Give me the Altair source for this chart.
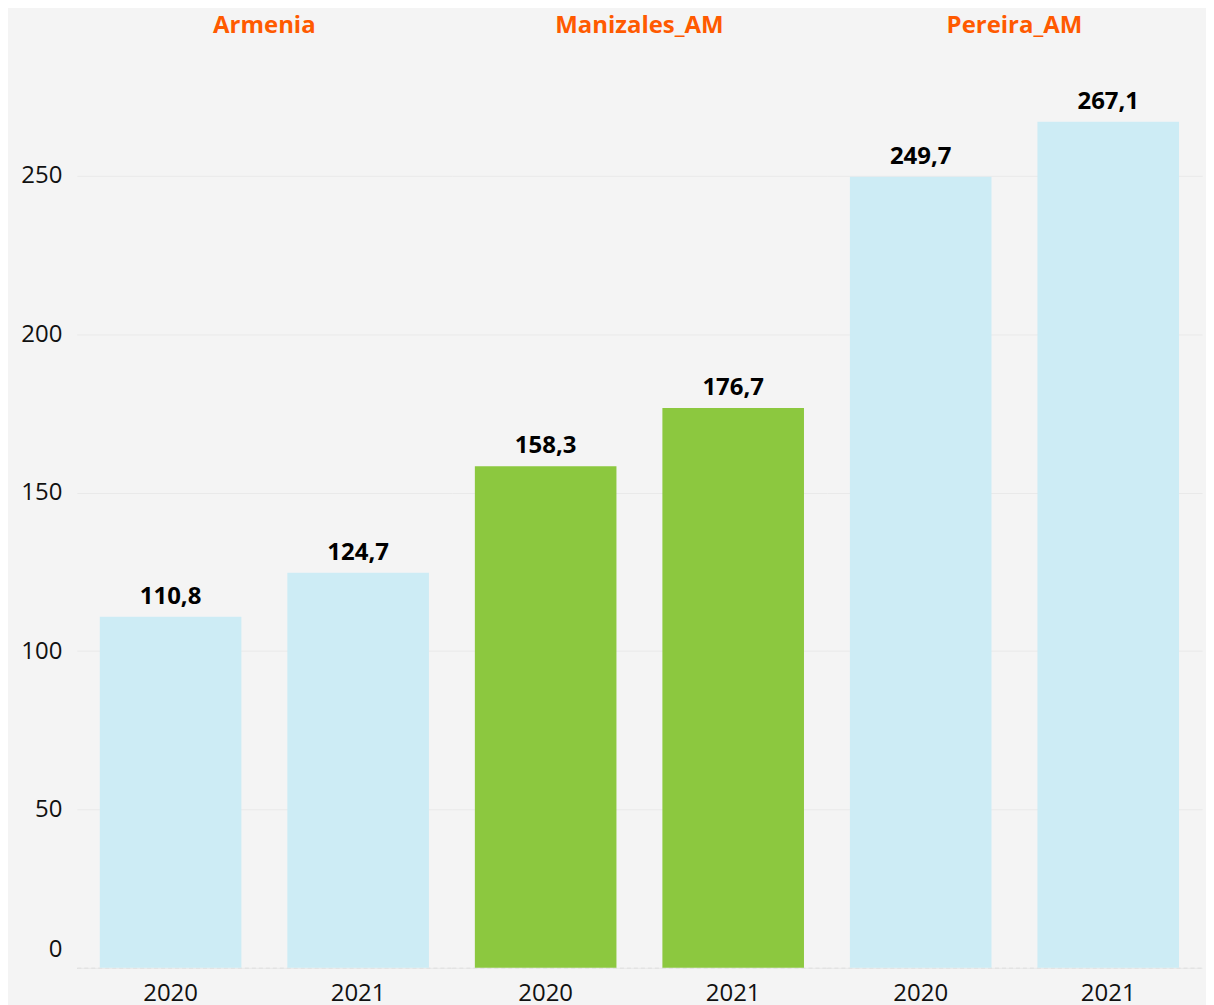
import altair as alt
import pandas as pd

cities = ["Armenia", "Armenia", "Manizales_AM", "Manizales_AM", "Pereira_AM", "Pereira_AM"]
years = ["2020", "2021", "2020", "2021", "2020", "2021"]
values = [110.8, 124.7, 158.3, 176.7, 249.7, 267.1]

city_order = ["Armenia", "Manizales_AM", "Pereira_AM"]
city_colors = ["#cdecf5", "#8cc83f", "#cdecf5"]

df = pd.DataFrame({"city": cities, "year": years, "value": values})

FONT = "Open Sans"

base = alt.Chart().transform_calculate(
    label="replace(format(datum.value, '.1f'), '.', ',')"
).encode(
    x=alt.X(
        "year:N",
        title=None,
        scale=alt.Scale(paddingInner=0.245, paddingOuter=0.1225),
        axis=alt.Axis(
            labelAngle=0, labelFont=FONT, labelFontSize=24, labelColor="#111",
            labelPadding=14, ticks=False, domain=True, domainColor="#bdbdbd",
            domainDash=[4, 3], domainWidth=1,
        ),
    ),
    y=alt.Y(
        "value:Q",
        title=None,
        scale=alt.Scale(domain=[0, 290], nice=False),
        axis=alt.Axis(
            values=[0, 50, 100, 150, 200, 250], labelFont=FONT, labelFontSize=24,
            labelColor="#111", labelPadding=15, ticks=False, domain=False,
            gridColor="#e9e9e9", gridWidth=1, labelFlush=True, labelFlushOffset=-6,
        ),
    ),
)

bars = base.mark_bar().encode(
    color=alt.Color("city:N", scale=alt.Scale(domain=city_order, range=city_colors), legend=None)
)

text = base.mark_text(
    baseline="alphabetic", dy=-13, font=FONT, fontSize=24, fontWeight="bold", color="#000"
).encode(text="label:N")

chart = alt.layer(bars, text, data=df).properties(width=376, height=921).facet(
    column=alt.Column(
        "city:N",
        sort=city_order,
        title=None,
        header=alt.Header(
            labelFont=FONT, labelFontSize=24, labelFontWeight="bold", labelColor="#ff5a00",
            labelOrient="top", labelPadding=11,
        ),
    ),
    spacing=0,
).properties(
    background="#f4f4f4",
    padding={"left": 12, "top": 5, "right": 4, "bottom": 0},
).configure_view(stroke=None)

chart.save("out.html", embed_options={"renderer": "svg", "actions": False})
